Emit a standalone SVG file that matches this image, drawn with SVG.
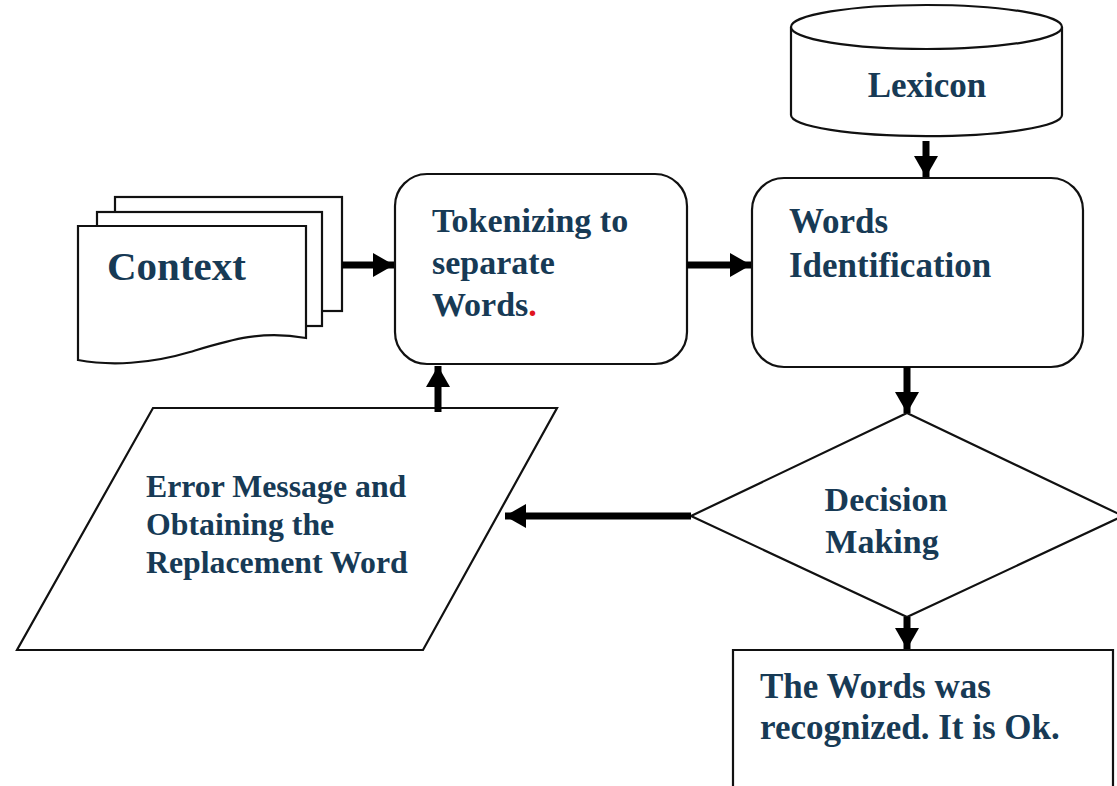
<svg xmlns="http://www.w3.org/2000/svg" width="1117" height="786" viewBox="0 0 1117 786">
<style>
.shape{fill:#fff;stroke:#111;stroke-width:2.2}
.lbl{font-family:"Liberation Serif","Times New Roman",serif;font-weight:bold;fill:#173a55}
.conn{stroke:#000;stroke-width:7;fill:none}
</style>
<defs>
<marker id="ah" markerUnits="userSpaceOnUse" markerWidth="24" markerHeight="26" viewBox="0 0 24 26" refX="22" refY="13" orient="auto">
<path d="M1,1 L22,13 L1,25 Z" fill="#000"/>
</marker>
</defs>
<rect width="1117" height="786" fill="#fff"/>
<g id="context">
<rect class="shape" x="115" y="197" width="227" height="114"/>
<rect class="shape" x="97" y="212" width="225" height="114"/>
<path class="shape" d="M78,226 H306 V338 C260,330 230,340 190,352 C150,364 110,366 78,360 Z"/>
<text class="lbl" x="107" y="280" font-size="41">Context</text>
</g>
<g id="tokenizing">
<rect class="shape" x="395" y="174" width="292" height="190" rx="32"/>
<text class="lbl" font-size="34"><tspan x="432" y="232">Tokenizing to</tspan><tspan x="432" y="274">separate</tspan><tspan x="432" y="316">Words<tspan fill="#e0141e">.</tspan></tspan></text>
</g>
<g id="lexicon">
<path class="shape" d="M791,27 V115 A135,21 0 0 0 1062,115 V27"/>
<ellipse class="shape" cx="926.5" cy="27" rx="135.5" ry="22"/>
<text class="lbl" x="927" y="97" font-size="35" text-anchor="middle">Lexicon</text>
</g>
<g id="words-identification">
<rect class="shape" x="752" y="178" width="331" height="189" rx="32"/>
<text class="lbl" font-size="35"><tspan x="789" y="233">Words</tspan><tspan x="789" y="277">Identification</tspan></text>
</g>
<g id="decision">
<polygon class="shape" points="907,413 1123,516 907,617 691,516"/>
<text class="lbl" font-size="34" text-anchor="middle"><tspan x="886" y="511">Decision</tspan><tspan x="882" y="553">Making</tspan></text>
</g>
<g id="error">
<polygon class="shape" points="153,408 557,408 423,650 17,650"/>
<text class="lbl" font-size="31.8"><tspan x="146" y="497">Error Message and</tspan><tspan x="146" y="535">Obtaining the</tspan><tspan x="146" y="573">Replacement Word</tspan></text>
</g>
<g id="result">
<path class="shape" d="M733,790 V650 H1113 V790"/>
<text class="lbl" font-size="35"><tspan x="760" y="698">The Words was</tspan><tspan x="760" y="739">recognized. It is Ok.</tspan></text>
</g>
<g id="connectors">
<line class="conn" x1="342" y1="265" x2="394" y2="265" marker-end="url(#ah)"/>
<line class="conn" x1="687" y1="265" x2="751" y2="265" marker-end="url(#ah)"/>
<line class="conn" x1="926" y1="141" x2="926" y2="177" marker-end="url(#ah)"/>
<line class="conn" x1="907" y1="367" x2="907" y2="413" marker-end="url(#ah)"/>
<line class="conn" x1="691" y1="516" x2="505" y2="516" marker-end="url(#ah)"/>
<line class="conn" x1="438" y1="412" x2="438" y2="366" marker-end="url(#ah)"/>
<line class="conn" x1="907" y1="617" x2="907" y2="649" marker-end="url(#ah)"/>
</g>
</svg>
